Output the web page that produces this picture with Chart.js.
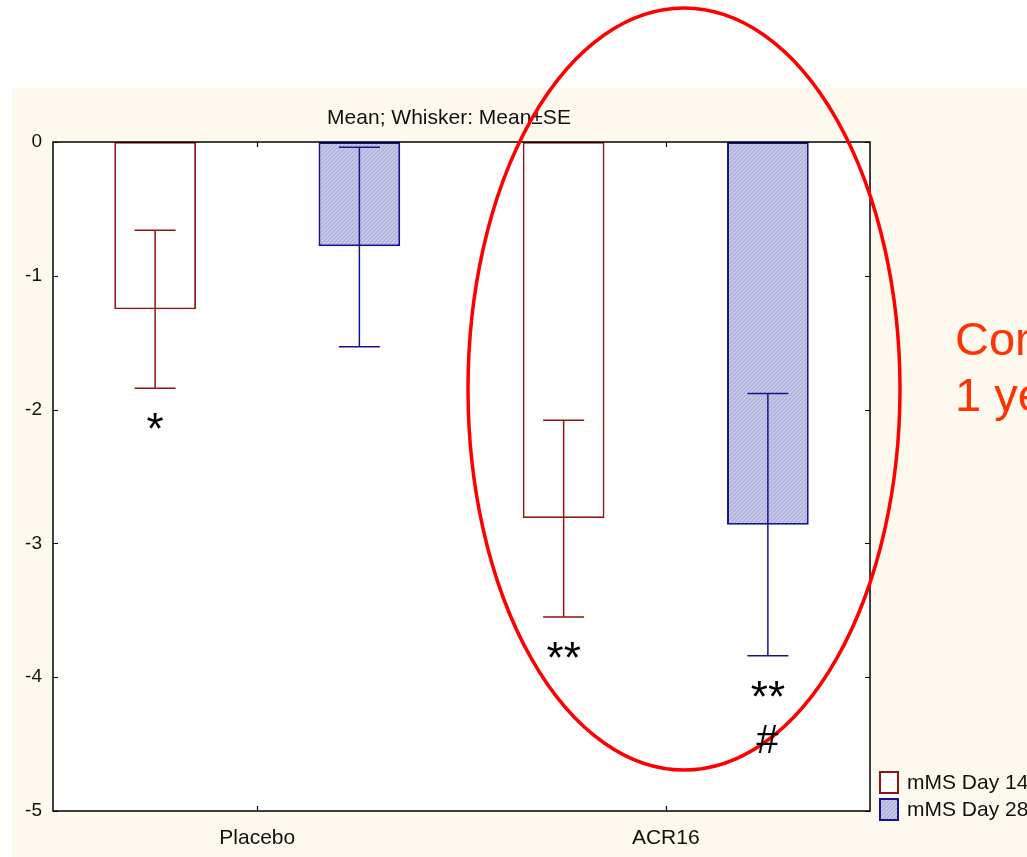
<!DOCTYPE html>
<html>
<head>
<meta charset="utf-8">
<script src="https://cdn.jsdelivr.net/npm/chart.js@4/dist/chart.umd.min.js"></script>
<style>
  html, body { margin: 0; padding: 0; background: #ffffff; overflow: hidden; }
  canvas { display: block; }
</style>
</head>
<body>
<canvas id="c" width="1027" height="857"></canvas>
<script>
// Group means and mean±SE whiskers for the two mMS time points
const categories = ['Placebo', 'ACR16'];
const seriesLabels = ['mMS Day 14', 'mMS Day 28'];
const meanDay14 = [-1.25, -2.81];
const meanDay28 = [-0.78, -2.86];
const seUpperDay14 = [-0.66, -2.08];
const seLowerDay14 = [-1.84, -3.55];
const seUpperDay28 = [-0.04, -1.88];
const seLowerDay28 = [-1.53, -3.84];
const yTicks = [0, -1, -2, -3, -4, -5];
// significance marks printed under each whisker
const marksDay14 = [['*'], ['**']];
const marksDay28 = [[], ['**', '#']];

const FONT = '"Liberation Sans", Arial, Helvetica, sans-serif';
const RED14 = '#8f1414';
const BLUE28 = '#14148f';

function hatchPattern() {
  const p = document.createElement('canvas');
  p.width = 4; p.height = 4;
  const g = p.getContext('2d');
  g.fillStyle = '#c3c3e6';
  g.fillRect(0, 0, 4, 4);
  g.fillStyle = '#a6a6d6';
  g.fillRect(0, 0, 1, 1); g.fillRect(2, 2, 1, 1);
  g.fillRect(1, 3, 1, 1); g.fillRect(3, 1, 1, 1);
  g.fillStyle = '#d2d2ee';
  g.fillRect(2, 0, 1, 1); g.fillRect(0, 2, 1, 1);
  return document.getElementById('c').getContext('2d').createPattern(p, 'repeat');
}

const whiskers = [
  { upper: seUpperDay14, lower: seLowerDay14, color: RED14, marks: marksDay14 },
  { upper: seUpperDay28, lower: seLowerDay28, color: BLUE28, marks: marksDay28 }
];

const decor = {
  id: 'decor',
  beforeDraw(chart) {
    const ctx = chart.ctx, a = chart.chartArea;
    ctx.save();
    ctx.fillStyle = '#ffffff';
    ctx.fillRect(0, 0, chart.width, chart.height);
    ctx.fillStyle = '#fef9ee';
    ctx.fillRect(12, 88, chart.width - 12, chart.height - 88);
    ctx.fillStyle = '#ffffff';
    ctx.fillRect(a.left, a.top, a.right - a.left, a.bottom - a.top);
    ctx.restore();
  },
  afterDatasetsDraw(chart) {
    const ctx = chart.ctx, a = chart.chartArea;
    const ys = chart.scales.y, xs = chart.scales.x;
    ctx.save();

    // whiskers
    whiskers.forEach((w, di) => {
      const meta = chart.getDatasetMeta(di);
      meta.data.forEach((bar, i) => {
        const x = bar.x;
        const yTop = ys.getPixelForValue(w.upper[i]);
        const yBot = ys.getPixelForValue(w.lower[i]);
        ctx.strokeStyle = w.color;
        ctx.lineWidth = 1.5;
        ctx.beginPath();
        ctx.moveTo(x, yTop); ctx.lineTo(x, yBot);
        ctx.moveTo(x - 20.5, yTop); ctx.lineTo(x + 20.5, yTop);
        ctx.moveTo(x - 20.5, yBot); ctx.lineTo(x + 20.5, yBot);
        ctx.stroke();
      });
    });

    // plot frame
    ctx.strokeStyle = '#000000';
    ctx.lineWidth = 1.5;
    ctx.strokeRect(a.left, a.top, a.right - a.left, a.bottom - a.top);

    // inward ticks on all four sides
    ctx.lineWidth = 1.2;
    ctx.beginPath();
    yTicks.forEach(v => {
      const y = Math.round(ys.getPixelForValue(v)) + 0.5;
      ctx.moveTo(a.left, y); ctx.lineTo(a.left + 5, y);
      ctx.moveTo(a.right - 5, y); ctx.lineTo(a.right, y);
    });
    categories.forEach((c, i) => {
      const x = Math.round(xs.getPixelForValue(i)) + 0.5;
      ctx.moveTo(x, a.top); ctx.lineTo(x, a.top + 5);
      ctx.moveTo(x, a.bottom - 5); ctx.lineTo(x, a.bottom);
    });
    ctx.stroke();

    // title
    ctx.fillStyle = '#111111';
    ctx.font = '21px ' + FONT;
    ctx.textAlign = 'center';
    ctx.textBaseline = 'middle';
    ctx.fillText('Mean; Whisker: Mean\u00B1SE', 449, 118);

    // highlight ellipse around the ACR16 group
    ctx.strokeStyle = '#ff0000';
    ctx.lineWidth = 3.5;
    ctx.beginPath();
    ctx.ellipse(684, 389, 216, 381, 0, 0, Math.PI * 2);
    ctx.stroke();

    // significance marks
    ctx.fillStyle = '#000000';
    ctx.textAlign = 'center';
    ctx.textBaseline = 'alphabetic';
    whiskers.forEach((w, di) => {
      const meta = chart.getDatasetMeta(di);
      meta.data.forEach((bar, i) => {
        const yBot = ys.getPixelForValue(w.lower[i]);
        w.marks[i].forEach((m) => {
          if (m === '#') {
            ctx.font = 'italic 40px ' + FONT;
            ctx.fillText(m, bar.x - 1, yBot + 97);
          } else {
            ctx.font = '44px ' + FONT;
            ctx.fillText(m, bar.x, yBot + 56);
          }
        });
      });
    });

    // side note text (runs off the right edge)
    ctx.fillStyle = '#ff3300';
    ctx.font = '47px ' + FONT;
    ctx.textAlign = 'left';
    ctx.fillText('Com', 955, 355);
    ctx.fillText('1 ye', 955, 411);

    // legend
    const items = [
      { fill: '#ffffff', stroke: RED14, y: 772 },
      { fill: chart.data.datasets[1].backgroundColor, stroke: BLUE28, y: 799 }
    ];
    items.forEach((it, k) => {
      ctx.fillStyle = it.fill;
      ctx.fillRect(880, it.y, 18, 21);
      ctx.strokeStyle = it.stroke;
      ctx.lineWidth = 2;
      ctx.strokeRect(880, it.y, 18, 21);
      ctx.fillStyle = '#111111';
      ctx.font = '21px ' + FONT;
      ctx.textBaseline = 'middle';
      ctx.fillText(seriesLabels[k], 907, it.y + 11);
    });

    ctx.restore();
  }
};

Chart.defaults.font.family = FONT;
Chart.defaults.color = '#111111';

new Chart(document.getElementById('c'), {
  type: 'bar',
  data: {
    labels: categories,
    datasets: [
      {
        label: seriesLabels[0],
        data: meanDay14,
        backgroundColor: '#ffffff',
        borderColor: RED14,
        borderWidth: 1.8,
        borderSkipped: false,
        categoryPercentage: 1.0,
        barPercentage: 0.4
      },
      {
        label: seriesLabels[1],
        data: meanDay28,
        backgroundColor: hatchPattern(),
        borderColor: BLUE28,
        borderWidth: 2,
        borderSkipped: false,
        categoryPercentage: 1.0,
        barPercentage: 0.4
      }
    ]
  },
  options: {
    responsive: false,
    devicePixelRatio: 1,
    animation: false,
    layout: { padding: { left: 0, top: 142, right: 157, bottom: 0 } },
    plugins: { legend: { display: false }, tooltip: { enabled: false }, title: { display: false } },
    scales: {
      x: {
        grid: { display: false, drawTicks: false },
        border: { display: false },
        ticks: { font: { size: 21 }, color: '#111111', padding: 15 },
        afterFit(s) { s.height = 46; }
      },
      y: {
        min: -5,
        max: 0,
        grid: { display: false, drawTicks: false },
        border: { display: false },
        ticks: { stepSize: 1, font: { size: 19 }, color: '#111111', padding: 11 },
        afterFit(s) { s.width = 53; }
      }
    }
  },
  plugins: [decor]
});
</script>
</body>
</html>
